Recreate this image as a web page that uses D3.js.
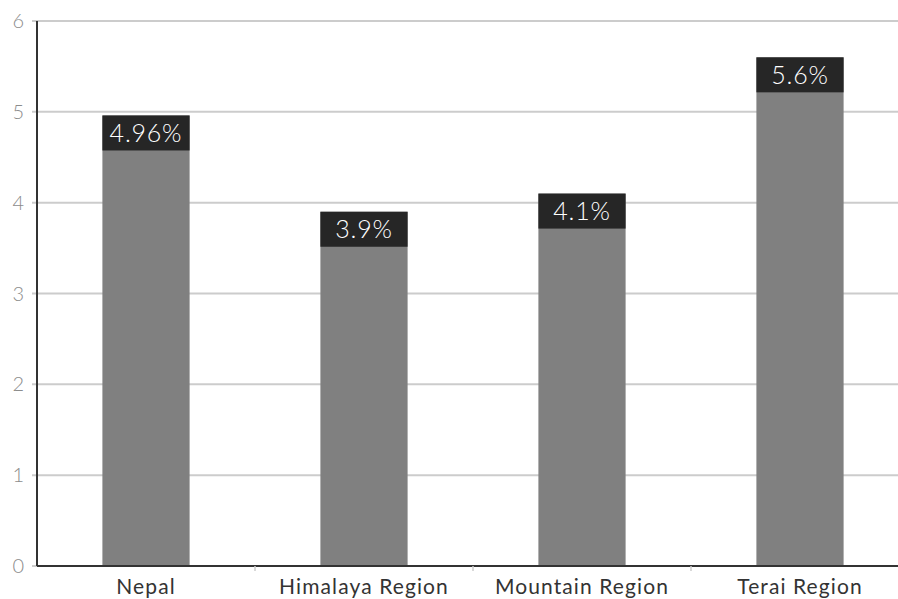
<!DOCTYPE html>
<html>
<head>
<meta charset="utf-8">
<script src="https://cdn.jsdelivr.net/npm/d3@7/dist/d3.min.js"></script>
<style>
  html, body { margin: 0; padding: 0; background: #fff; }
  svg { display: block; font-family: Lato, "Open Sans", sans-serif; }
</style>
</head>
<body>
<svg id="chart" width="898" height="599"></svg>
<script>
// Regional rates, in percent
const categories = ["Nepal", "Himalaya Region", "Mountain Region", "Terai Region"];
const values = [4.96, 3.9, 4.1, 5.6];
const valueLabels = ["4.96%", "3.9%", "4.1%", "5.6%"];
const yTicks = [0, 1, 2, 3, 4, 5, 6];

const svg = d3.select("#chart");
const plotLeft = 37, plotTop = 21, plotBottom = 566, bandEnd = 909;

const x = d3.scaleBand().domain(categories).range([plotLeft, bandEnd]).paddingInner(0.6).paddingOuter(0.3);
const y = d3.scaleLinear().domain([0, 6]).range([plotBottom, plotTop]);

// horizontal gridlines with short ticks to the left of the axis
const grid = svg.append("g");
grid.selectAll("line").data(yTicks).join("line")
  .attr("x1", plotLeft - 5).attr("x2", 898)
  .attr("y1", d => y(d)).attr("y2", d => y(d))
  .attr("stroke", "#cccccc").attr("stroke-width", 2);

grid.selectAll("text").data(yTicks).join("text")
  .attr("x", 24).attr("y", d => y(d)).attr("dy", "0.35em")
  .attr("text-anchor", "end")
  .attr("fill", "#8c8c8c").attr("font-size", 20).attr("font-weight", 300)
  .text(d => d);

// bars
svg.append("g").selectAll("rect").data(values).join("rect")
  .attr("x", (d, i) => x(categories[i]))
  .attr("width", x.bandwidth())
  .attr("y", d => y(d))
  .attr("height", d => y(0) - y(d))
  .attr("fill", "#808080");

// value boxes at the top of each bar
const boxH = 35;
const lab = svg.append("g");
lab.selectAll("rect").data(values).join("rect")
  .attr("x", (d, i) => x(categories[i]))
  .attr("width", x.bandwidth())
  .attr("y", d => y(d))
  .attr("height", boxH)
  .attr("fill", "#262626");
lab.selectAll("text").data(values).join("text")
  .attr("x", (d, i) => x(categories[i]) + x.bandwidth() / 2)
  .attr("y", d => y(d) + boxH / 2)
  .attr("dy", "0.36em")
  .attr("text-anchor", "middle")
  .attr("fill", "#ffffff").attr("font-size", 25).attr("font-weight", 300)
  .attr("letter-spacing", 0.8)
  .text((d, i) => valueLabels[i]);

// x axis line, boundary ticks and category labels
const xa = svg.append("g");
xa.append("line")
  .attr("x1", plotLeft).attr("x2", 898).attr("y1", plotBottom).attr("y2", plotBottom)
  .attr("stroke", "#333333").attr("stroke-width", 2);
const bounds = categories.slice(1).map(c => x(c) - x.step() * x.paddingInner() / 2);
xa.selectAll("line.b").data(bounds).join("line").attr("class", "b")
  .attr("x1", d => d).attr("x2", d => d)
  .attr("y1", plotBottom).attr("y2", plotBottom + 5)
  .attr("stroke", "#cccccc").attr("stroke-width", 1.5);
xa.selectAll("text").data(categories).join("text")
  .attr("x", d => x(d) + x.bandwidth() / 2)
  .attr("y", 587).attr("dy", "0.35em")
  .attr("text-anchor", "middle")
  .attr("fill", "#333333").attr("font-size", 21).attr("font-weight", 400)
  .attr("letter-spacing", 1.1)
  .text(d => d);

// y axis line
svg.append("line")
  .attr("x1", plotLeft).attr("x2", plotLeft).attr("y1", plotTop).attr("y2", plotBottom)
  .attr("stroke", "#333333").attr("stroke-width", 2);
</script>
</body>
</html>
